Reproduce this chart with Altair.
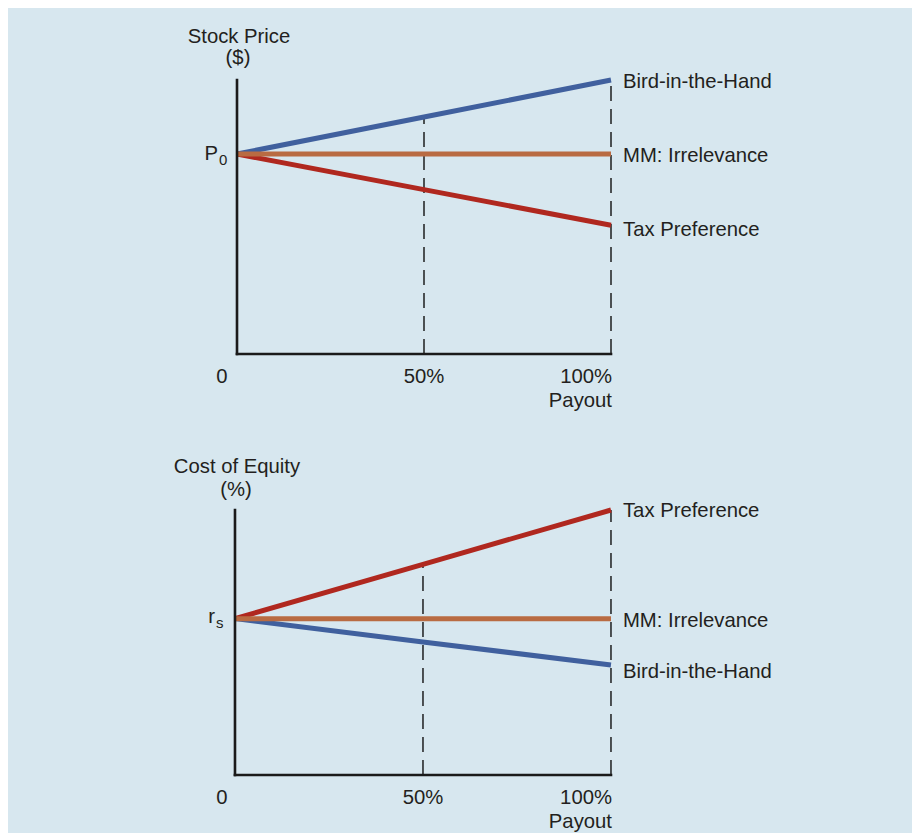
import altair as alt
import pandas as pd

# ---------------- data ----------------
payout = [0, 50, 100]
payout_labels = ["0", "50%", "100%"]
series = ["Bird-in-the-Hand", "MM: Irrelevance", "Tax Preference"]
colors = ["#40609e", "#b96b42", "#b0281f"]

# top panel: stock price (arbitrary units, axis top = 100)
price_bird = [73, 86.5, 100]
price_mm = [73, 73, 73]
price_tax = [73, 60, 47]

# bottom panel: cost of equity (arbitrary units, axis top = 100)
coe_bird = [59, 50.2, 41.5]
coe_mm = [59, 59, 59]
coe_tax = [59, 79.5, 100]

axis_top = 100

FONT = "Liberation Sans"
TXT = "#231f20"
BG = "#d7e7ef"
W = 904


def panel(vals, xdom, ydom, height, title1, title2, sym, sub, sym_dx, sym_dy, sub_dx, sub_dy,
          title_dy1, title_dy2, zero_dx, label_dys):
    xs = alt.Scale(domain=xdom, nice=False, zero=False)
    ys = alt.Scale(domain=ydom, nice=False, zero=False)
    cs = alt.Scale(domain=series, range=colors)

    rows = []
    for s, v in zip(series, vals):
        for p, y in zip(payout, v):
            rows.append({"payout": p, "value": y, "series": s})
    df = pd.DataFrame(rows)

    X = alt.X("payout:Q", scale=xs, axis=None)
    Y = alt.Y("value:Q", scale=ys, axis=None)

    base = alt.Chart(df)
    lines_back = base.mark_line(strokeWidth=5, strokeCap="butt").encode(
        x=X, y=Y, color=alt.Color("series:N", scale=cs, legend=None), detail="series:N"
    ).transform_filter(alt.datum.series != "MM: Irrelevance")
    lines_front = base.mark_line(strokeWidth=5, strokeCap="butt").encode(
        x=X, y=Y, color=alt.Color("series:N", scale=cs, legend=None)
    ).transform_filter(alt.datum.series == "MM: Irrelevance")

    # dashed guides at 50% and 100% from the x-axis up to the highest line
    guide = pd.DataFrame({
        "payout": payout[1:],
        "base": [0] * (len(payout) - 1),
        "top": [max(v[i] for v in vals) for i in range(1, len(payout))],
    })
    guides = alt.Chart(guide).mark_rule(color="#111111", strokeWidth=1.4, strokeDash=[15, 8]).encode(
        x=alt.X("payout:Q", scale=xs, axis=None),
        y=alt.Y("base:Q", scale=ys, axis=None),
        y2="top:Q",
    )

    # axes
    yaxis = alt.Chart(pd.DataFrame({"x": [0], "y": [0], "y2": [axis_top]})).mark_rule(
        color="#1a1a1a", strokeWidth=2.6, strokeCap="square").encode(
        x=alt.X("x:Q", scale=xs, axis=None), y=alt.Y("y:Q", scale=ys, axis=None), y2="y2:Q")
    xaxis = alt.Chart(pd.DataFrame({"x": [payout[0]], "x2": [payout[-1]], "y": [0]})).mark_rule(
        color="#1a1a1a", strokeWidth=2.6, strokeCap="square").encode(
        x=alt.X("x:Q", scale=xs, axis=None), x2="x2:Q", y=alt.Y("y:Q", scale=ys, axis=None))

    def txt(df_, **kw):
        props = dict(font=FONT, fontSize=20.3, color=TXT, baseline="middle")
        props.update(kw)
        return alt.Chart(df_).mark_text(**props).encode(
            x=alt.X("x:Q", scale=xs, axis=None), y=alt.Y("y:Q", scale=ys, axis=None), text="t:N")

    # end labels
    end_labels = []
    for s, v, ldy in zip(series, vals, label_dys):
        end_labels.append(txt(pd.DataFrame({"x": [payout[-1]], "y": [v[-1]], "t": [s]}),
                              align="left", dx=12, dy=ldy))

    # y-axis title
    t1 = txt(pd.DataFrame({"x": [0], "y": [axis_top], "t": [title1]}), align="center", dx=2, dy=title_dy1)
    t2 = txt(pd.DataFrame({"x": [0], "y": [axis_top], "t": [title2]}), align="center", dx=1, dy=title_dy2)

    # intercept symbol with subscript
    s1 = txt(pd.DataFrame({"x": [0], "y": [vals[0][0]], "t": [sym]}), align="right", dx=sym_dx, dy=sym_dy)
    s2 = txt(pd.DataFrame({"x": [0], "y": [vals[0][0]], "t": [sub]}), align="left", fontSize=15,
             dx=sub_dx, dy=sub_dy)

    # x tick labels
    l0 = txt(pd.DataFrame({"x": [payout[0]], "y": [0], "t": [payout_labels[0]]}), align="center",
             dx=zero_dx, dy=23)
    l50 = txt(pd.DataFrame({"x": [payout[1]], "y": [0], "t": [payout_labels[1]]}), align="center", dy=23)
    l100 = txt(pd.DataFrame({"x": [payout[2]], "y": [0], "t": [payout_labels[2]]}), align="right",
               dx=1, dy=23)
    lp = txt(pd.DataFrame({"x": [payout[2]], "y": [0], "t": ["Payout"]}), align="right", dx=1, dy=47)

    return alt.layer(guides, lines_back, lines_front, yaxis, xaxis, *end_labels, t1, t2, s1, s2,
                     l0, l50, l100, lp).properties(width=W, height=height)


# top panel geometry: 3.74 px per payout unit, 2.74 px per value unit
top = panel([price_bird, price_mm, price_tax],
            xdom=[-61.23, 180.48], ydom=[-27.0, 126.28], height=420,
            title1="Stock Price", title2="($)", sym="P", sub="0",
            sym_dx=-19, sym_dy=0, sub_dx=-18, sub_dy=6,
            title_dy1=-43, title_dy2=-22, zero_dx=-15, label_dys=[2, 2, 5])

# bottom panel geometry: 3.76 px per payout unit, 2.65 px per value unit
bottom = panel([coe_bird, coe_mm, coe_tax],
               xdom=[-60.37, 180.06], ydom=[-21.14, 130.94], height=403,
               title1="Cost of Equity", title2="(%)", sym="r", sub="s",
               sym_dx=-20, sym_dy=-2, sub_dx=-19, sub_dy=4,
               title_dy1=-43, title_dy2=-20, zero_dx=-13, label_dys=[7, 2, 1])

chart = alt.vconcat(top, bottom, spacing=0).properties(
    background=BG, padding=0
).configure_view(stroke=None).configure_concat(spacing=0)

chart.save("out.html", embed_options={"renderer": "svg", "actions": False})
